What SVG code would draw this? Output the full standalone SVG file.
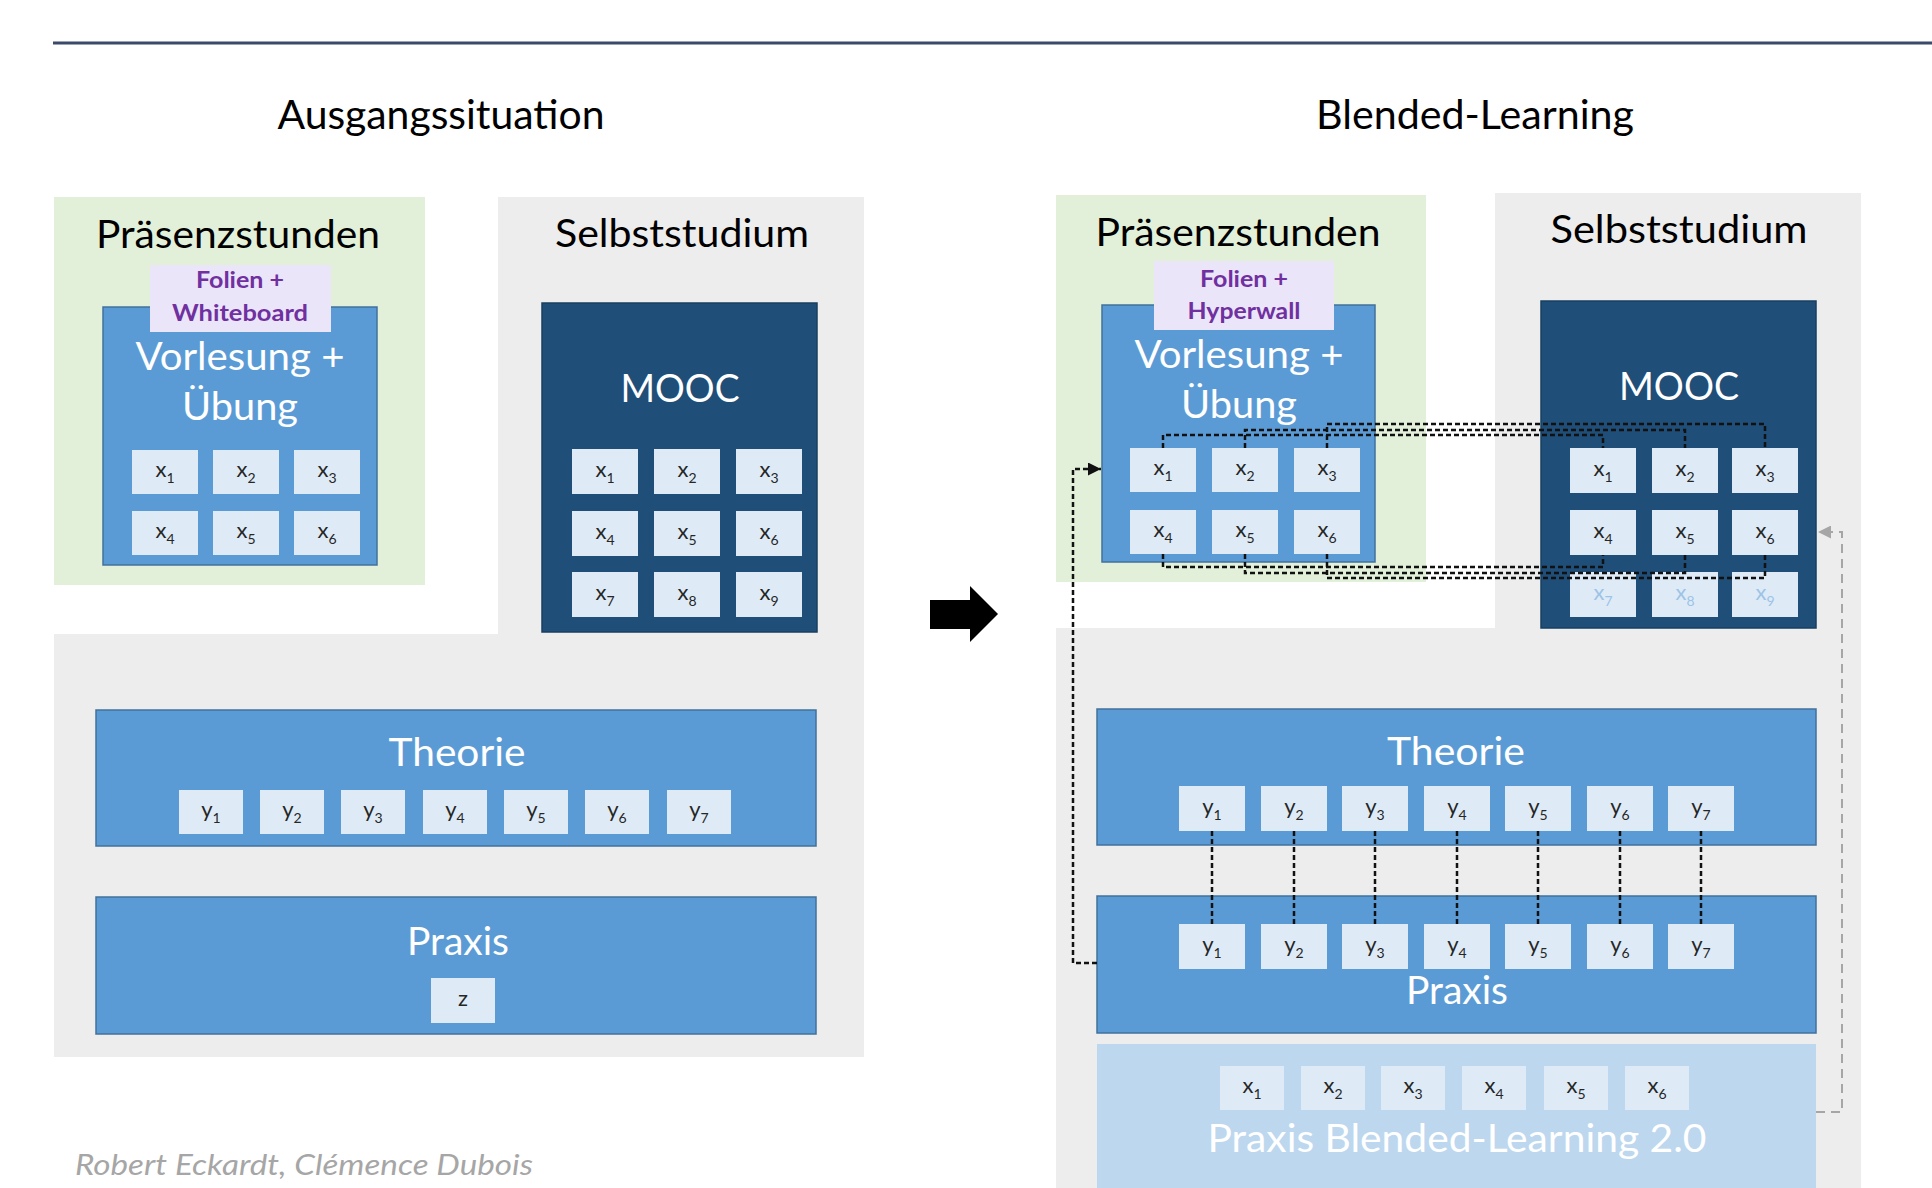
<svg xmlns="http://www.w3.org/2000/svg" width="1932" height="1188" viewBox="0 0 1932 1188">
<style>
text{font-family:Lato,"Open Sans","Liberation Sans",sans-serif}
.h{font-size:41px;fill:#000;text-anchor:middle}
.sec{font-size:38px;fill:#000;text-anchor:middle}
.wt{font-size:38px;fill:#fff;text-anchor:middle}
.lab{font-size:22px;font-weight:bold;fill:#7030a0;text-anchor:middle}
.green{fill:#e2f0d9}
.gray{fill:#ededed}
.mid{fill:#5b9bd5;stroke:#41719c;stroke-width:1.5}
.dark{fill:#1f4e79;stroke:#183f62;stroke-width:1.5}
.tag{fill:#ebe5f9}
.cell rect{fill:#deebf7}
.cell text{font-size:22px;fill:#262626;text-anchor:middle}
.cell tspan{font-size:14px}
.cell.fade text{fill:#9dc3e6}
.bl{fill:#bdd7ee}
.dash{fill:none;stroke:#111;stroke-width:2.5;stroke-dasharray:5 3}
.gdash{fill:none;stroke:#a6a6a6;stroke-width:2;stroke-dasharray:9 6}
</style>
<defs>
<marker id="ab" viewBox="0 0 10 10" refX="10" refY="5" markerUnits="userSpaceOnUse" markerWidth="14" markerHeight="13" orient="auto"><path d="M0 0L10 5L0 10z" fill="#111"/></marker>
<marker id="ag" viewBox="0 0 10 10" refX="10" refY="5" markerUnits="userSpaceOnUse" markerWidth="14" markerHeight="13" orient="auto"><path d="M0 0L10 5L0 10z" fill="#a6a6a6"/></marker>
</defs>
<rect width="1932" height="1188" fill="#fff"/>
<line x1="53" y1="43" x2="1932" y2="43" stroke="#3b4a6b" stroke-width="3"/>
<text class="h" x="441" y="129" textLength="327" lengthAdjust="spacingAndGlyphs">Ausgangssituation</text>
<text class="h" x="1475" y="129" textLength="318" lengthAdjust="spacingAndGlyphs">Blended-Learning</text>

<!-- LEFT PANEL -->
<g id="left-selbststudium">
<path class="gray" d="M54 634H498V197H864V1057H54Z"/>
<text class="sec" x="682" y="247" textLength="254" lengthAdjust="spacingAndGlyphs">Selbststudium</text>
</g>
<g id="left-praesenz">
<rect class="green" x="54" y="197" width="371" height="388"/>
<text class="sec" x="238" y="248" textLength="284" lengthAdjust="spacingAndGlyphs">Präsenzstunden</text>
</g>
<g id="left-vorlesung">
<rect class="mid" x="103" y="307" width="274" height="258"/>
<text class="wt" x="240" y="370" textLength="209" lengthAdjust="spacingAndGlyphs">Vorlesung +</text>
<text class="wt" x="240" y="420" textLength="116" lengthAdjust="spacingAndGlyphs">Übung</text>
</g>
<g id="left-folien">
<rect class="tag" x="150" y="265" width="181" height="67"/>
<text class="lab" x="240" y="288" textLength="88" lengthAdjust="spacingAndGlyphs">Folien +</text>
<text class="lab" x="240" y="321" textLength="136" lengthAdjust="spacingAndGlyphs">Whiteboard</text>
</g>
<g id="lv-x1" class="cell"><rect x="132" y="450" width="66" height="44"/><text x="165" y="477">x<tspan dy="6">1</tspan></text></g>
<g id="lv-x2" class="cell"><rect x="213" y="450" width="66" height="44"/><text x="246" y="477">x<tspan dy="6">2</tspan></text></g>
<g id="lv-x3" class="cell"><rect x="294" y="450" width="66" height="44"/><text x="327" y="477">x<tspan dy="6">3</tspan></text></g>
<g id="lv-x4" class="cell"><rect x="132" y="511" width="66" height="44"/><text x="165" y="538">x<tspan dy="6">4</tspan></text></g>
<g id="lv-x5" class="cell"><rect x="213" y="511" width="66" height="44"/><text x="246" y="538">x<tspan dy="6">5</tspan></text></g>
<g id="lv-x6" class="cell"><rect x="294" y="511" width="66" height="44"/><text x="327" y="538">x<tspan dy="6">6</tspan></text></g>

<g id="left-mooc">
<rect class="dark" x="542" y="303" width="275" height="329"/>
<text class="wt" x="680" y="402" textLength="119" lengthAdjust="spacingAndGlyphs">MOOC</text>
</g>
<g id="lm-x1" class="cell"><rect x="572" y="449" width="66" height="45"/><text x="605" y="477">x<tspan dy="6">1</tspan></text></g>
<g id="lm-x2" class="cell"><rect x="654" y="449" width="66" height="45"/><text x="687" y="477">x<tspan dy="6">2</tspan></text></g>
<g id="lm-x3" class="cell"><rect x="736" y="449" width="66" height="45"/><text x="769" y="477">x<tspan dy="6">3</tspan></text></g>
<g id="lm-x4" class="cell"><rect x="572" y="511" width="66" height="45"/><text x="605" y="539">x<tspan dy="6">4</tspan></text></g>
<g id="lm-x5" class="cell"><rect x="654" y="511" width="66" height="45"/><text x="687" y="539">x<tspan dy="6">5</tspan></text></g>
<g id="lm-x6" class="cell"><rect x="736" y="511" width="66" height="45"/><text x="769" y="539">x<tspan dy="6">6</tspan></text></g>
<g id="lm-x7" class="cell"><rect x="572" y="572" width="66" height="45"/><text x="605" y="600">x<tspan dy="6">7</tspan></text></g>
<g id="lm-x8" class="cell"><rect x="654" y="572" width="66" height="45"/><text x="687" y="600">x<tspan dy="6">8</tspan></text></g>
<g id="lm-x9" class="cell"><rect x="736" y="572" width="66" height="45"/><text x="769" y="600">x<tspan dy="6">9</tspan></text></g>

<g id="left-theorie">
<rect class="mid" x="96" y="710" width="720" height="136"/>
<text class="wt" x="457" y="766" textLength="137" lengthAdjust="spacingAndGlyphs">Theorie</text>
</g>
<g id="lt-y1" class="cell"><rect x="179" y="790" width="64" height="44"/><text x="211" y="817">y<tspan dy="6">1</tspan></text></g>
<g id="lt-y2" class="cell"><rect x="260" y="790" width="64" height="44"/><text x="292" y="817">y<tspan dy="6">2</tspan></text></g>
<g id="lt-y3" class="cell"><rect x="341" y="790" width="64" height="44"/><text x="373" y="817">y<tspan dy="6">3</tspan></text></g>
<g id="lt-y4" class="cell"><rect x="423" y="790" width="64" height="44"/><text x="455" y="817">y<tspan dy="6">4</tspan></text></g>
<g id="lt-y5" class="cell"><rect x="504" y="790" width="64" height="44"/><text x="536" y="817">y<tspan dy="6">5</tspan></text></g>
<g id="lt-y6" class="cell"><rect x="585" y="790" width="64" height="44"/><text x="617" y="817">y<tspan dy="6">6</tspan></text></g>
<g id="lt-y7" class="cell"><rect x="667" y="790" width="64" height="44"/><text x="699" y="817">y<tspan dy="6">7</tspan></text></g>

<g id="left-praxis">
<rect class="mid" x="96" y="897" width="720" height="137"/>
<text class="wt" x="458" y="955" textLength="102" lengthAdjust="spacingAndGlyphs">Praxis</text>
</g>
<g id="lp-z" class="cell"><rect x="431" y="978" width="64" height="45"/><text x="463" y="1006">z</text></g>

<g id="transition-arrow">
<polygon points="930,600 970,600 970,586 998,614 970,642 970,629 930,629" fill="#000"/>
</g>

<!-- RIGHT PANEL -->
<g id="right-selbststudium">
<path class="gray" d="M1056 628H1495V193H1861V1188H1056Z"/>
<text class="sec" x="1679" y="243" textLength="257" lengthAdjust="spacingAndGlyphs">Selbststudium</text>
</g>
<g id="right-praesenz">
<rect class="green" x="1056" y="195" width="370" height="387"/>
<text class="sec" x="1238" y="246" textLength="285" lengthAdjust="spacingAndGlyphs">Präsenzstunden</text>
</g>
<g id="right-vorlesung">
<rect class="mid" x="1102" y="305" width="273" height="257"/>
<text class="wt" x="1239" y="368" textLength="209" lengthAdjust="spacingAndGlyphs">Vorlesung +</text>
<text class="wt" x="1239" y="418" textLength="116" lengthAdjust="spacingAndGlyphs">Übung</text>
</g>
<g id="right-folien">
<rect class="tag" x="1154" y="261" width="180" height="69"/>
<text class="lab" x="1244" y="287" textLength="88" lengthAdjust="spacingAndGlyphs">Folien +</text>
<text class="lab" x="1244" y="319" textLength="113" lengthAdjust="spacingAndGlyphs">Hyperwall</text>
</g>
<g id="rv-x1" class="cell"><rect x="1130" y="448" width="66" height="44"/><text x="1163" y="475">x<tspan dy="6">1</tspan></text></g>
<g id="rv-x2" class="cell"><rect x="1212" y="448" width="66" height="44"/><text x="1245" y="475">x<tspan dy="6">2</tspan></text></g>
<g id="rv-x3" class="cell"><rect x="1294" y="448" width="66" height="44"/><text x="1327" y="475">x<tspan dy="6">3</tspan></text></g>
<g id="rv-x4" class="cell"><rect x="1130" y="510" width="66" height="44"/><text x="1163" y="537">x<tspan dy="6">4</tspan></text></g>
<g id="rv-x5" class="cell"><rect x="1212" y="510" width="66" height="44"/><text x="1245" y="537">x<tspan dy="6">5</tspan></text></g>
<g id="rv-x6" class="cell"><rect x="1294" y="510" width="66" height="44"/><text x="1327" y="537">x<tspan dy="6">6</tspan></text></g>

<g id="right-mooc">
<rect class="dark" x="1541" y="301" width="275" height="327"/>
<text class="wt" x="1679" y="400" textLength="120" lengthAdjust="spacingAndGlyphs">MOOC</text>
</g>
<g id="rm-x1" class="cell"><rect x="1570" y="448" width="66" height="45"/><text x="1603" y="476">x<tspan dy="6">1</tspan></text></g>
<g id="rm-x2" class="cell"><rect x="1652" y="448" width="66" height="45"/><text x="1685" y="476">x<tspan dy="6">2</tspan></text></g>
<g id="rm-x3" class="cell"><rect x="1732" y="448" width="66" height="45"/><text x="1765" y="476">x<tspan dy="6">3</tspan></text></g>
<g id="rm-x4" class="cell"><rect x="1570" y="510" width="66" height="45"/><text x="1603" y="538">x<tspan dy="6">4</tspan></text></g>
<g id="rm-x5" class="cell"><rect x="1652" y="510" width="66" height="45"/><text x="1685" y="538">x<tspan dy="6">5</tspan></text></g>
<g id="rm-x6" class="cell"><rect x="1732" y="510" width="66" height="45"/><text x="1765" y="538">x<tspan dy="6">6</tspan></text></g>
<g id="rm-x7" class="cell fade"><rect x="1570" y="572" width="66" height="45"/><text x="1603" y="600">x<tspan dy="6">7</tspan></text></g>
<g id="rm-x8" class="cell fade"><rect x="1652" y="572" width="66" height="45"/><text x="1685" y="600">x<tspan dy="6">8</tspan></text></g>
<g id="rm-x9" class="cell fade"><rect x="1732" y="572" width="66" height="45"/><text x="1765" y="600">x<tspan dy="6">9</tspan></text></g>

<g id="right-theorie">
<rect class="mid" x="1097" y="709" width="719" height="136"/>
<text class="wt" x="1456" y="765" textLength="138" lengthAdjust="spacingAndGlyphs">Theorie</text>
</g>
<g id="rt-y1" class="cell"><rect x="1179" y="786" width="66" height="45"/><text x="1212" y="814">y<tspan dy="6">1</tspan></text></g>
<g id="rt-y2" class="cell"><rect x="1261" y="786" width="66" height="45"/><text x="1294" y="814">y<tspan dy="6">2</tspan></text></g>
<g id="rt-y3" class="cell"><rect x="1342" y="786" width="66" height="45"/><text x="1375" y="814">y<tspan dy="6">3</tspan></text></g>
<g id="rt-y4" class="cell"><rect x="1424" y="786" width="66" height="45"/><text x="1457" y="814">y<tspan dy="6">4</tspan></text></g>
<g id="rt-y5" class="cell"><rect x="1505" y="786" width="66" height="45"/><text x="1538" y="814">y<tspan dy="6">5</tspan></text></g>
<g id="rt-y6" class="cell"><rect x="1587" y="786" width="66" height="45"/><text x="1620" y="814">y<tspan dy="6">6</tspan></text></g>
<g id="rt-y7" class="cell"><rect x="1668" y="786" width="66" height="45"/><text x="1701" y="814">y<tspan dy="6">7</tspan></text></g>

<g id="right-praxis">
<rect class="mid" x="1097" y="896" width="719" height="137"/>
<text class="wt" x="1457" y="1004" textLength="102" lengthAdjust="spacingAndGlyphs">Praxis</text>
</g>
<g id="rp-y1" class="cell"><rect x="1179" y="924" width="66" height="45"/><text x="1212" y="952">y<tspan dy="6">1</tspan></text></g>
<g id="rp-y2" class="cell"><rect x="1261" y="924" width="66" height="45"/><text x="1294" y="952">y<tspan dy="6">2</tspan></text></g>
<g id="rp-y3" class="cell"><rect x="1342" y="924" width="66" height="45"/><text x="1375" y="952">y<tspan dy="6">3</tspan></text></g>
<g id="rp-y4" class="cell"><rect x="1424" y="924" width="66" height="45"/><text x="1457" y="952">y<tspan dy="6">4</tspan></text></g>
<g id="rp-y5" class="cell"><rect x="1505" y="924" width="66" height="45"/><text x="1538" y="952">y<tspan dy="6">5</tspan></text></g>
<g id="rp-y6" class="cell"><rect x="1587" y="924" width="66" height="45"/><text x="1620" y="952">y<tspan dy="6">6</tspan></text></g>
<g id="rp-y7" class="cell"><rect x="1668" y="924" width="66" height="45"/><text x="1701" y="952">y<tspan dy="6">7</tspan></text></g>

<g id="right-praxis-bl">
<rect class="bl" x="1097" y="1044" width="719" height="150"/>
<text class="wt" x="1457" y="1152" font-size="40" textLength="499" lengthAdjust="spacingAndGlyphs">Praxis Blended-Learning 2.0</text>
</g>
<g id="rb-x1" class="cell"><rect x="1220" y="1066" width="64" height="44"/><text x="1252" y="1093">x<tspan dy="6">1</tspan></text></g>
<g id="rb-x2" class="cell"><rect x="1301" y="1066" width="64" height="44"/><text x="1333" y="1093">x<tspan dy="6">2</tspan></text></g>
<g id="rb-x3" class="cell"><rect x="1381" y="1066" width="64" height="44"/><text x="1413" y="1093">x<tspan dy="6">3</tspan></text></g>
<g id="rb-x4" class="cell"><rect x="1462" y="1066" width="64" height="44"/><text x="1494" y="1093">x<tspan dy="6">4</tspan></text></g>
<g id="rb-x5" class="cell"><rect x="1544" y="1066" width="64" height="44"/><text x="1576" y="1093">x<tspan dy="6">5</tspan></text></g>
<g id="rb-x6" class="cell"><rect x="1625" y="1066" width="64" height="44"/><text x="1657" y="1093">x<tspan dy="6">6</tspan></text></g>

<g id="connectors">
<path class="dash" d="M1163 448V435H1603V448"/>
<path class="dash" d="M1245 448V430H1685V448"/>
<path class="dash" d="M1327 448V424H1765V448"/>
<path class="dash" d="M1163 554V567H1603V555"/>
<path class="dash" d="M1245 554V573H1685V555"/>
<path class="dash" d="M1327 554V578H1765V555"/>
<path class="dash" d="M1212 831V924M1294 831V924M1375 831V924M1457 831V924M1538 831V924M1620 831V924M1701 831V924"/>
<path class="dash" d="M1097 963H1073V469H1101" marker-end="url(#ab)"/>
<path class="gdash" d="M1816 1112H1842V532H1818" marker-end="url(#ag)"/>
</g>

<text x="75" y="1175" font-size="28" font-style="italic" fill="#a6a6a6" textLength="458" lengthAdjust="spacingAndGlyphs">Robert Eckardt, Clémence Dubois</text>
</svg>
